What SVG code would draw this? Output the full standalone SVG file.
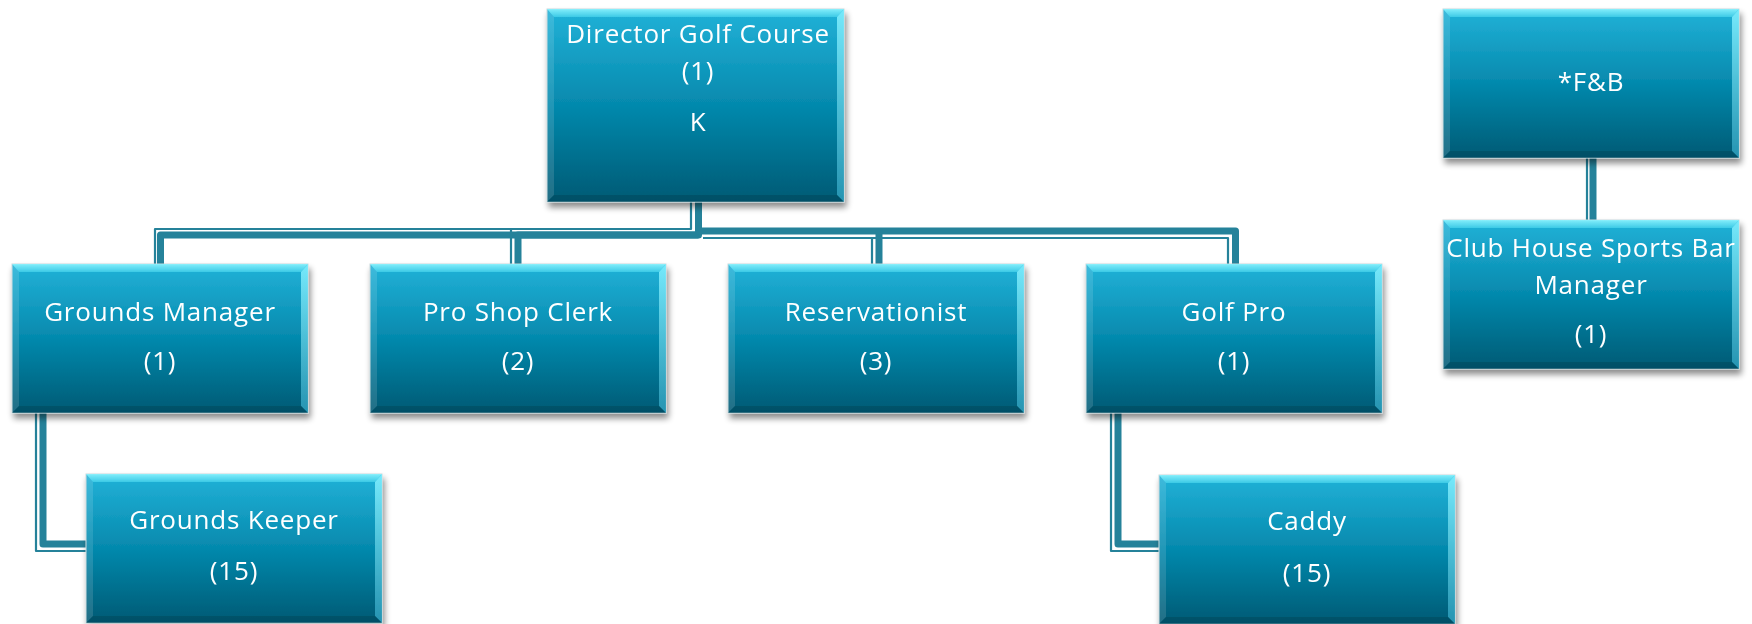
<svg xmlns="http://www.w3.org/2000/svg" xmlns:xlink="http://www.w3.org/1999/xlink" width="1752" height="624" viewBox="0 0 1752 624">
<style>
.thick{fill:none;stroke:#25829a;stroke-width:7;stroke-linejoin:round}
.thin{fill:none;stroke:#25829a;stroke-width:2.2;stroke-linejoin:round}
.t{font-family:"Open Sans","DejaVu Sans",sans-serif;font-size:26px;fill:#ffffff;text-anchor:middle;letter-spacing:0.8px}
</style>
<defs>
<linearGradient id="g" x1="0" y1="0" x2="0" y2="1">
<stop offset="0" stop-color="#22b2d8"/>
<stop offset="0.5" stop-color="#0589ad"/>
<stop offset="1" stop-color="#035a74"/>
</linearGradient>
<linearGradient id="gt" x1="0" y1="0" x2="0" y2="1">
<stop offset="0" stop-color="#8ef4ff"/>
<stop offset="1" stop-color="#3fcde8"/>
</linearGradient>
<linearGradient id="gr" x1="0" y1="0" x2="0" y2="1">
<stop offset="0" stop-color="#7fefff"/>
<stop offset="1" stop-color="#2a9ab8"/>
</linearGradient>
<filter id="sh" x="-5%" y="-5%" width="112%" height="120%">
<feGaussianBlur in="SourceAlpha" stdDeviation="3"/>
<feOffset dx="2" dy="5" result="b"/>
<feComponentTransfer><feFuncA type="linear" slope="0.45"/></feComponentTransfer>
<feMerge><feMergeNode/><feMergeNode in="SourceGraphic"/></feMerge>
</filter>
<g id="box">
<rect x="0" y="0" width="296" height="149" fill="url(#g)" stroke="#c8d8dc" stroke-width="1"/>
<polygon points="0,0 296,0 289,8 7,8" fill="url(#gt)" opacity="0.9"/>
<polygon points="296,0 296,149 289,142 289,8" fill="url(#gr)" opacity="0.9"/>
<polygon points="0,0 7,8 7,142 0,149" fill="#ffffff" opacity="0.12"/>
<polygon points="0,149 296,149 289,142 7,142" fill="#02465a" opacity="0.5"/>
</g>
<g id="boxT">
<rect x="0" y="0" width="297" height="193" fill="url(#g)" stroke="#c8d8dc" stroke-width="1"/>
<polygon points="0,0 297,0 290,8 7,8" fill="url(#gt)" opacity="0.9"/>
<polygon points="297,0 297,193 290,186 290,8" fill="url(#gr)" opacity="0.9"/>
<polygon points="0,0 7,8 7,186 0,193" fill="#ffffff" opacity="0.12"/>
<polygon points="0,193 297,193 290,186 7,186" fill="#02465a" opacity="0.5"/>
</g>
</defs>
<rect width="1752" height="624" fill="#ffffff"/>

<g id="connectors">
<path class="thick" d="M698.5,202 V235 H160.5 V264"/>
<path class="thin" d="M691,202 V229 H155 V264"/>
<path class="thick" d="M698.5,235 H518 V264"/>
<path class="thin" d="M511,229 V264"/>
<path class="thick" d="M698.5,202 V231 H1235.5 V264"/>
<path class="thick" d="M879,231 V264"/>
<path class="thin" d="M703,238 H1228 V264"/>
<path class="thin" d="M872,238 V264"/>
<path class="thick" d="M43,413 V544 H86"/>
<path class="thin" d="M36,413 V551 H86"/>
<path class="thick" d="M1118,413 V544 H1159"/>
<path class="thin" d="M1111,413 V551 H1159"/>
<path class="thick" d="M1593,157 V220"/>
<path class="thin" d="M1587,157 V220"/>
</g>

<g id="director" filter="url(#sh)">
<use xlink:href="#boxT" x="547" y="9"/>
<text class="t" x="698" y="43">Director Golf Course</text>
<text class="t" x="698" y="80">(1)</text>
<text class="t" x="698" y="131">K</text>
</g>
<g id="grounds-manager" filter="url(#sh)">
<use xlink:href="#box" x="12" y="264"/>
<text class="t" x="160" y="321">Grounds Manager</text>
<text class="t" x="160" y="370">(1)</text>
</g>
<g id="pro-shop-clerk" filter="url(#sh)">
<use xlink:href="#box" x="370" y="264"/>
<text class="t" x="518" y="321">Pro Shop Clerk</text>
<text class="t" x="518" y="370">(2)</text>
</g>
<g id="reservationist" filter="url(#sh)">
<use xlink:href="#box" x="728" y="264"/>
<text class="t" x="876" y="321">Reservationist</text>
<text class="t" x="876" y="370">(3)</text>
</g>
<g id="golf-pro" filter="url(#sh)">
<use xlink:href="#box" x="1086" y="264"/>
<text class="t" x="1234" y="321">Golf Pro</text>
<text class="t" x="1234" y="370">(1)</text>
</g>
<g id="grounds-keeper" filter="url(#sh)">
<use xlink:href="#box" x="86" y="474"/>
<text class="t" x="234" y="529">Grounds Keeper</text>
<text class="t" x="234" y="580">(15)</text>
</g>
<g id="caddy" filter="url(#sh)">
<use xlink:href="#box" x="1159" y="475"/>
<text class="t" x="1307" y="530">Caddy</text>
<text class="t" x="1307" y="582">(15)</text>
</g>
<g id="fnb" filter="url(#sh)">
<use xlink:href="#box" x="1443" y="9"/>
<text class="t" x="1591" y="91">*F&amp;B</text>
</g>
<g id="club-house" filter="url(#sh)">
<use xlink:href="#box" x="1443" y="220"/>
<text class="t" x="1591" y="257">Club House Sports Bar</text>
<text class="t" x="1591" y="294">Manager</text>
<text class="t" x="1591" y="343">(1)</text>
</g>
</svg>
